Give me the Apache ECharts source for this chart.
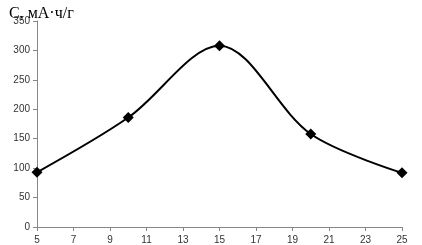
<!DOCTYPE html>
<html><head><meta charset="utf-8">
<script src="https://cdn.jsdelivr.net/npm/echarts@6/dist/echarts.min.js"></script>
<style>html,body{margin:0;padding:0;background:#fff}#c{width:422px;height:245px}</style>
</head><body><div id="c"></div>
<script>
const xCategories = ['5','6','7','8','9','10','11','12','13','14','15','16','17','18','19','20','21','22','23','24','25'];
const xValues = ['5','10','15','20','25'];
const capacity = [93, 186, 308, 158, 92];
const yTitle = 'C, мА·ч/г';

const chart = echarts.init(document.getElementById('c'));
chart.setOption({
  animation: false,
  backgroundColor: '#fff',
  title: {
    text: yTitle, left: 4, top: 1,
    textStyle: {fontFamily: 'Liberation Serif', fontSize: 16, fontWeight: 'normal', color: '#000'}
  },
  grid: {left: 37, right: 20, top: 21, bottom: 18, containLabel: false},
  xAxis: {
    type: 'category', data: xCategories, boundaryGap: false,
    axisLine: {lineStyle: {color: '#868686', width: 1}},
    axisTick: {show: true, length: 4, interval: 1, lineStyle: {color: '#868686'}},
    axisLabel: {interval: 1, margin: 8, fontFamily: 'Liberation Sans', fontSize: 10, color: '#333'},
    splitLine: {show: false}
  },
  yAxis: {
    type: 'value', min: 0, max: 350, interval: 50,
    axisLine: {show: true, lineStyle: {color: '#868686', width: 1}},
    axisTick: {show: true, length: 4, lineStyle: {color: '#868686'}},
    axisLabel: {margin: 7, fontFamily: 'Liberation Sans', fontSize: 10, color: '#333'},
    splitLine: {show: false}
  },
  series: [{
    type: 'line', smooth: 0.33,
    data: xValues.map((x, i) => [x, capacity[i]]),
    symbol: 'diamond', symbolSize: 11,
    itemStyle: {color: '#000'},
    lineStyle: {color: '#000', width: 2}
  }]
});
</script></body></html>
